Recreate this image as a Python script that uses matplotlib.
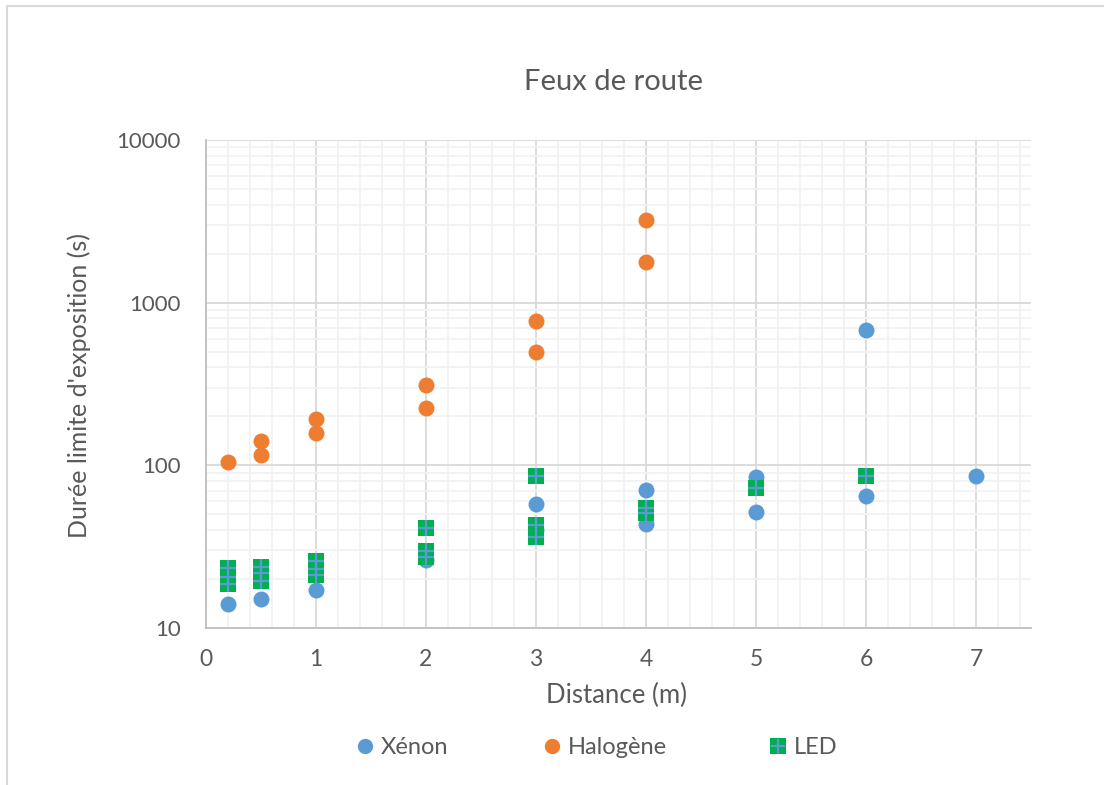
import matplotlib
matplotlib.use("Agg")
import matplotlib.pyplot as plt
from matplotlib.lines import Line2D
from matplotlib.patches import Rectangle
from matplotlib.ticker import MultipleLocator, LogLocator, FixedLocator, NullFormatter

plt.rcParams['font.family'] = ['Lato', 'DejaVu Sans']

# Data
xenon_x = [0.2, 0.5, 1, 2, 3, 3, 4, 4, 5, 5, 6, 6, 7]
xenon_y = [14, 15.1, 17.1, 26, 57.8, 40, 70.5, 43.6, 85, 51.6, 678, 65, 86]

halogene_x = [0.2, 0.5, 0.5, 1, 1, 2, 2, 3, 3, 4, 4]
halogene_y = [104.7, 141, 115.6, 192.6, 158, 311, 225, 771, 497, 3218, 1776]

led_x = [0.2, 0.2, 0.2, 0.5, 0.5, 0.5, 1, 1, 1, 2, 2, 2, 3, 3, 3, 4, 4, 5, 6]
led_y = [23.4, 20.6, 18.6, 23.7, 21.8, 19.4, 25.8, 23.0, 21.2, 40.9, 29.7, 27.3,
         86, 43, 36.2, 54.7, 50.9, 72.5, 86]

x_ticks = [0, 1, 2, 3, 4, 5, 6, 7]
y_ticks = [10, 100, 1000, 10000]

title = "Feux de route"
xlabel = "Distance (m)"
ylabel = "Durée limite d'exposition (s)"

BLUE = "#5B9BD5"
ORANGE = "#ED7D31"
GREEN = "#00B050"
TXT = "#595959"

W, H = 1104, 785
fig = plt.figure(figsize=(W / 100, H / 100), dpi=100)
fig.patch.set_facecolor("white")
fig.add_artist(Rectangle((7 / W, 0 - 0.1), 1.2, 1 - 6 / H + 0.1, transform=fig.transFigure,
                         fill=False, edgecolor="#D9D9D9", linewidth=1.5))

ax = fig.add_axes([206 / W, (H - 628) / H, (1031 - 206) / W, (628 - 140) / H])
ax.set_yscale("log")
ax.set_xlim(0, 7.5)
ax.set_ylim(10, 10000)

ax.xaxis.set_major_locator(FixedLocator(x_ticks))
ax.xaxis.set_minor_locator(MultipleLocator(0.2))
ax.yaxis.set_major_locator(FixedLocator(y_ticks))
ax.yaxis.set_minor_locator(LogLocator(base=10, subs=range(2, 10)))
ax.yaxis.set_minor_formatter(NullFormatter())
ax.set_yticklabels([str(v) for v in y_ticks])

ax.grid(which="minor", color="#F2F2F2", linewidth=1.3, zorder=0)
ax.grid(which="major", color="#D9D9D9", linewidth=1.3, zorder=0)
ax.set_axisbelow(True)

for s in ["top", "right"]:
    ax.spines[s].set_visible(False)
for s in ["left", "bottom"]:
    ax.spines[s].set_color("#BFBFBF")
    ax.spines[s].set_linewidth(1.3)

ax.tick_params(which="both", length=0, labelcolor=TXT)
ax.tick_params(axis="x", labelsize=16.5, pad=15)
ax.tick_params(axis="y", labelsize=16, pad=18)

ms = 11.5
ax.plot(xenon_x, xenon_y, linestyle="none", marker="o", markersize=ms,
        color=BLUE, markeredgewidth=0, zorder=3)
ax.plot(halogene_x, halogene_y, linestyle="none", marker="o", markersize=ms,
        color=ORANGE, markeredgewidth=0, zorder=3)
ax.plot(led_x, led_y, linestyle="none", marker="s", markersize=12,
        color=GREEN, markeredgewidth=0, zorder=4)
ax.plot(led_x, led_y, linestyle="none", marker="+", markersize=11,
        color=BLUE, markeredgewidth=1.6, zorder=5)

fig.suptitle(title, x=614 / W, y=1 - 82 / H, va="center", ha="center",
             fontsize=21, color=TXT)
ax.set_xlabel(xlabel, fontsize=18.5, color=TXT, va="center")
ax.xaxis.set_label_coords(0.5 - 2 / 825, (628 - 695) / 488)
ax.set_ylabel(ylabel, fontsize=18, color=TXT, va="center")
ax.yaxis.set_label_coords((79 - 206) / 825, (628 - 386) / 488)

# Legend
h_x = Line2D([], [], linestyle="none", marker="o", markersize=11, color=BLUE, markeredgewidth=0)
h_h = Line2D([], [], linestyle="none", marker="o", markersize=11, color=ORANGE, markeredgewidth=0)
h_l1 = Line2D([], [], linestyle="none", marker="s", markersize=11, color=GREEN, markeredgewidth=0)
h_l2 = Line2D([], [], linestyle="none", marker="+", markersize=10, color=BLUE, markeredgewidth=1.5)
entries = [((h_x,), "Xénon", 356), ((h_h,), "Halogène", 543), ((h_l1, h_l2), "LED", 769)]
for hs, lab, px in entries:
    fig.legend([hs if len(hs) > 1 else hs[0]], [lab], loc="center left",
               bbox_to_anchor=(px / W, 1 - 748 / H), frameon=False,
               fontsize=17, labelcolor=TXT, handlelength=0.8, handletextpad=0.25,
               borderpad=0, borderaxespad=0)

fig.savefig("out.png", dpi=100, facecolor="white")
